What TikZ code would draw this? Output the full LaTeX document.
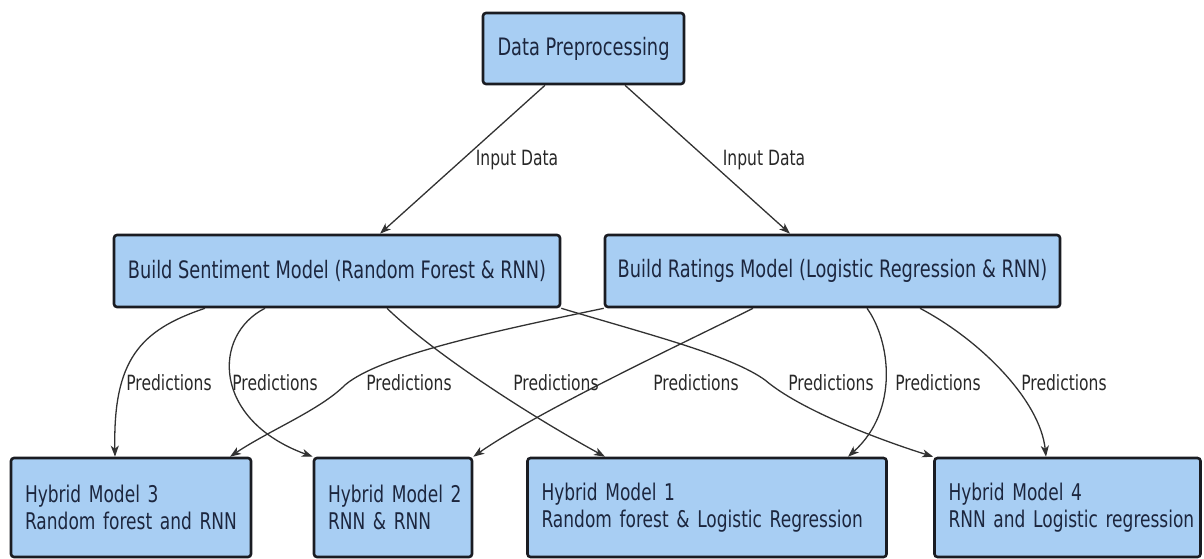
\documentclass[tikz,border=0pt]{standalone}
\usepackage{fontspec}
\usetikzlibrary{arrows.meta}
\newfontfamily\boxfont{DejaVu Sans}[FakeStretch=0.74]
\definecolor{boxfill}{RGB}{168,206,243}
\definecolor{boxline}{RGB}{26,28,34}
\definecolor{boxtext}{RGB}{28,38,62}
\definecolor{edgecol}{RGB}{50,50,50}
\definecolor{labcol}{RGB}{40,40,40}
\newcommand{\oneline}[1]{\mbox{#1}}
\tikzset{
  box/.style={draw=boxline, fill=boxfill, line width=2.6pt, rounded corners=3pt,
    text=boxtext, font=\boxfont\fontsize{24}{27}\selectfont, inner sep=0pt},
  hybox/.style={box, align=left, inner xsep=14pt, minimum height=99pt,
    font=\boxfont\fontsize{23}{27}\selectfont},
  conn/.style={draw=edgecol, line width=1.3pt, -{Stealth[length=11pt,width=8pt,inset=3pt]}},
  lab/.style={text=labcol, font=\boxfont\fontsize{21}{24}\selectfont, inner sep=1pt}
}
\begin{document}
\begin{tikzpicture}[x=1pt,y=-1pt]
\useasboundingbox (0,0) rectangle (1204,559);
% nodes
\node[box, minimum width=201pt, minimum height=71pt] (dp) at (583.5,48.5) {Data Preprocessing};
\node[box, minimum width=446pt, minimum height=72pt] (sent) at (337,271) {Build Sentiment Model (Random Forest \& RNN)};
\node[box, minimum width=455pt, minimum height=72pt] (rat) at (832.5,271) {Build Ratings Model (Logistic Regression \& RNN)};
\node[hybox, text width=212pt] (hm3) at (131,507.5) {\oneline{Hybrid Model 3}\\\oneline{Random forest and RNN}};
\node[hybox, text width=130pt] (hm2) at (393,507.5) {\oneline{Hybrid Model 2}\\\oneline{RNN \& RNN}};
\node[hybox, text width=331pt] (hm1) at (707,507.5) {\oneline{Hybrid Model 1}\\\oneline{Random forest \& Logistic Regression}};
\node[hybox, text width=238pt] (hm4) at (1067.5,507.5) {\oneline{Hybrid Model 4}\\\oneline{RNN and Logistic regression}};
% helper coordinates
\coordinate (m3) at (345,385);
\coordinate (m4) at (765,380);
% connectors
\draw[conn] ([xshift=-38.5pt]dp.south) -- ([xshift=43pt]sent.north);
\draw[conn] ([xshift=41.5pt]dp.south) -- ([xshift=-42.5pt]rat.north);
\draw[conn] ([xshift=-132pt]sent.south) .. controls (140,330) and (113,360) .. ([xshift=-16pt]hm3.north);
\draw[conn] ([xshift=-72pt]sent.south) .. controls (212,335) and (212,420) .. (hm2.north west);
\draw[conn] ([xshift=50pt]sent.south) .. controls (430,350) and (520,410) .. ([xshift=-102pt]hm1.north);
\draw[conn] (sent.south east) .. controls (650,335) and (730,355) .. (m4) .. controls (800,410) and (880,440) .. (hm4.north west);
\draw[conn] (rat.south west) .. controls (500,330) and (380,355) .. (m3) .. controls (320,410) and (270,430) .. ([xshift=99pt]hm3.north);
\draw[conn] ([xshift=-79.5pt]rat.south) .. controls (690,340) and (540,410) .. (hm2.north east);
\draw[conn] ([xshift=34.5pt]rat.south) .. controls (890,340) and (900,410) .. ([xshift=141pt]hm1.north);
\draw[conn] ([xshift=87.5pt]rat.south) .. controls (980,340) and (1040,400) .. ([xshift=-21.5pt]hm4.north);
% labels
\node[lab] (in1) at (517,160) {Input Data};
\node[lab] (in2) at (764,160) {Input Data};
\node[lab] (p1) at (169,383) {Predictions};
\node[lab] (p2) at (275,383) {Predictions};
\node[lab] (p3) at (409,383) {Predictions};
\node[lab] (p4) at (556,383) {Predictions};
\node[lab] (p5) at (696,383) {Predictions};
\node[lab] (p6) at (831,383) {Predictions};
\node[lab] (p7) at (938,383) {Predictions};
\node[lab] (p8) at (1064,383) {Predictions};
\end{tikzpicture}
\end{document}
